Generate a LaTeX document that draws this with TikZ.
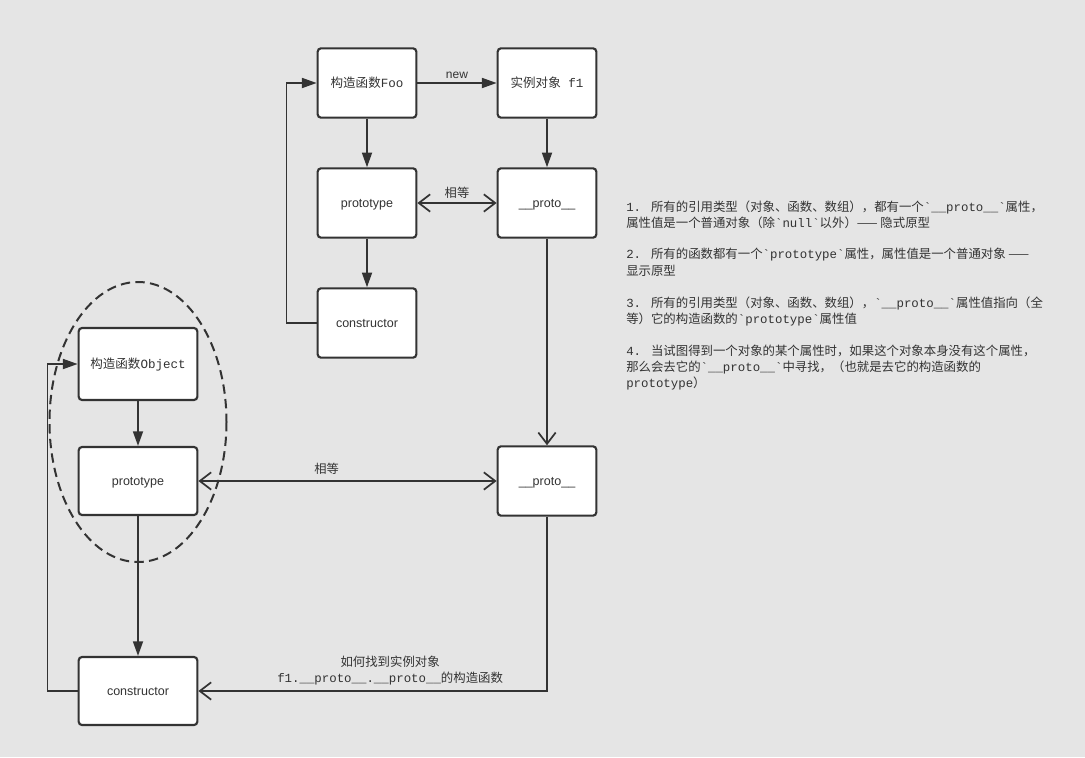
\documentclass[tikz,border=0pt]{standalone}
\usepackage{fontspec}
\setmainfont{Liberation Sans}
\newfontfamily\cjkf{Noto Sans CJK SC}
\newfontfamily\monof{Liberation Mono}
\usetikzlibrary{arrows.meta}
\newcommand\zc[1]{{\cjkf #1}}
\definecolor{bg}{HTML}{E5E5E5}
\definecolor{ink}{HTML}{333333}

\begin{document}
\begin{tikzpicture}[x=0.75pt,y=-0.75pt,
  box/.style={draw=ink, fill=white, line width=1.6pt, rounded corners=2.5pt,
    minimum width=74pt, minimum height=52pt, inner sep=0pt, text=ink,
    text height=6pt, text depth=0pt,
    font=\fontsize{9.4}{11}\selectfont},
  wbox/.style={box, minimum width=89pt},
  flow/.style={draw=ink, line width=1.3pt, -{Triangle[length=11pt,width=7.5pt]}},
  openflow/.style={draw=ink, line width=1.3pt, -{Straight Barb[length=8.5pt,width=13pt]}},
  bothflow/.style={draw=ink, line width=1.3pt, {Straight Barb[length=8.5pt,width=13pt]}-{Straight Barb[length=8.5pt,width=13pt]}},
  lbl/.style={text=ink, font=\fontsize{9.2}{11}\selectfont, inner sep=1pt},
  note/.style={anchor=base west, inner sep=0pt, text=ink, font=\monof\fontsize{9.3}{11}\selectfont}
]
% canvas
\fill[bg] (0,0) rectangle (1085,757);
\useasboundingbox (0,0) rectangle (1085,757);

% dashed ellipse around the Object group
\draw[ink, line width=1.5pt, dash pattern=on 7pt off 4pt] (138,422) ellipse [x radius=88.5, y radius=140];

% Foo group
\node[box] (foo) at (367,83) {\zc{构造函数}{\monof Foo}};
\node[box] (f1)  at (547,83) {\zc{实例对象}{\monof\ f1}};
\node[box] (ptop) at (367,203) {prototype};
\node[box] (dtop) at (547,203) {\_\_proto\_\_};
\node[box] (ctop) at (367,323) {constructor};

% Object group
\node[wbox, minimum height=54pt] (obj) at (138,364) {\zc{构造函数}{\monof Object}};
\node[wbox, minimum height=51pt] (pl) at (138,481) {prototype};
\node[box] (dbot) at (547,481) {\_\_proto\_\_};
\node[wbox, minimum height=51pt] (cbot) at (138,691) {constructor};

% connectors
\draw[flow] (foo.east) -- node[lbl, above=2pt, font=\fontsize{9}{11}\selectfont] (newl) {new} (f1.west);
\draw[flow] (foo.south) -- (ptop.north);
\draw[flow] (f1.south) -- (dtop.north);
\draw[bothflow] (ptop.east) -- node[lbl, above=2pt] (eq1) {\zc{相等}} (dtop.west);
\draw[flow] (ptop.south) -- (ctop.north);
\draw[flow] (ctop.west) -- ++(-30,0) |- (foo.west);
\draw[openflow] (dtop.south) -- (dbot.north);

\draw[flow] (obj.south) -- (pl.north);
\draw[bothflow] (pl.east) -- node[lbl, pos=0.43, above=3pt] (eq2) {\zc{相等}} (dbot.west);
\draw[flow] (pl.south) -- (cbot.north);
\draw[openflow] (dbot.south) |- node[lbl, pos=0.725, above=3pt, align=center, font=\fontsize{9.3}{12}\selectfont] (how)
  {\zc{如何找到实例对象}\\{\monof f1.\_\_proto\_\_.\_\_proto\_\_}\zc{的构造函数}} (cbot.east);
\draw[flow] (cbot.west) -- ++(-30,0) |- (obj.west);

% notes
\node[note] (n1) at (626,211) {1. \zc{所有的引用类型（对象、函数、数组），都有一个}`\_\_proto\_\_`\zc{属性，}};
\node[note] (n2) at (626,227) {\zc{属性值是一个普通对象（除}`null`\zc{以外）——\ 隐式原型}};
\node[note] (n3) at (626,258) {2. \zc{所有的函数都有一个}`prototype`\zc{属性，属性值是一个普通对象\ ——}};
\node[note] (n4) at (626,275) {\zc{显示原型}};
\node[note] (n5) at (626,307) {3. \zc{所有的引用类型（对象、函数、数组），}`\_\_proto\_\_`\zc{属性值指向（全}};
\node[note] (n6) at (626,323) {\zc{等）它的构造函数的}`prototype`\zc{属性值}};
\node[note] (n7) at (626,355) {4. \zc{当试图得到一个对象的某个属性时，如果这个对象本身没有这个属性，}};
\node[note] (n8) at (626,371) {\zc{那么会去它的}`\_\_proto\_\_`\zc{中寻找，（也就是去它的构造函数的}};
\node[note] (n9) at (626,387) {prototype\zc{）}};
\end{tikzpicture}
\end{document}
